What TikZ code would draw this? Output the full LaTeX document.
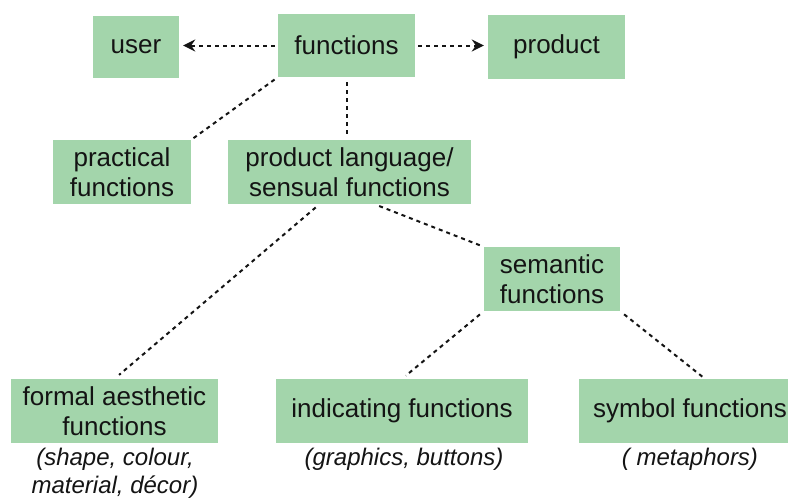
\documentclass[tikz,border=0pt]{standalone}
\usepackage{fontspec}
\setmainfont{Liberation Sans}
\usetikzlibrary{arrows.meta}
\definecolor{boxgreen}{RGB}{163,213,171}
\definecolor{ink}{RGB}{20,20,20}
\begin{document}
\begin{tikzpicture}[x=1pt,y=-1pt,
  box/.style={fill=boxgreen,draw=none,inner sep=0pt,align=center,text=ink,
    font=\fontsize{26}{30}\selectfont},
  note/.style={inner sep=0pt,align=center,text=ink,
    font=\fontsize{24}{28}\selectfont\itshape},
  dotline/.style={draw=ink,line width=2pt,dash pattern=on 4pt off 4pt},
  arr/.style={dotline,-{Stealth[length=12pt,width=12pt,inset=4pt]}}]
\useasboundingbox (0,0) rectangle (788,499);
\clip (0,0) rectangle (788,499);
\node[box,minimum width=86pt,minimum height=62pt] (user) at (136,47) {user};
\node[box,minimum width=137pt,minimum height=63pt] (fn) at (346.5,45.5) {functions};
\node[box,minimum width=137pt,minimum height=64pt] (prod) at (556.5,47) {product};
\node[box,minimum width=138pt,minimum height=64pt] (prac) at (122,172) {practical\\functions};
\node[box,minimum width=243pt,minimum height=64pt] (lang) at (349.5,172) {product language/\\sensual functions};
\node[box,minimum width=136pt,minimum height=64pt] (sem) at (552,279) {semantic\\functions};
\node[box,minimum width=207pt,minimum height=64pt] (formal) at (114.5,411) {formal aesthetic\\functions};
\node[box,minimum width=252pt,minimum height=64pt] (ind) at (402,411) {indicating functions};
\node[box,minimum width=222pt,minimum height=64pt] (sym) at (690,411) {symbol functions};
\node[note,anchor=base] (formalnote) at (115,493) {(shape, colour,\\material, décor)};
\node[note,anchor=base] (indnote) at (404,465) {(graphics, buttons)};
\node[note,anchor=base] (symnote) at (690,465) {( metaphors)};
\draw[arr,shorten <=3pt,shorten >=4pt] (fn.west) -- (user.east |- fn.west);
\draw[arr,shorten <=3pt,shorten >=4pt] (fn.east) -- (prod.west |- fn.east);
\draw[dotline,shorten <=4pt,shorten >=2pt] (fn.south west) -- (prac.north east);
\draw[dotline,shorten <=5pt,shorten >=4pt] (fn.south) -- (fn.south |- lang.north);
\draw[dotline,shorten <=5pt,shorten >=6pt] ([xshift=-30pt]lang.south) -- (formal.north);
\draw[dotline,shorten <=5pt,shorten >=2pt] ([xshift=25pt]lang.south) -- (sem.north west);
\draw[dotline,shorten <=5pt,shorten >=5pt] (sem.south west) -- (ind.north);
\draw[dotline,shorten <=5pt,shorten >=3pt] (sem.south east) -- ([xshift=15pt]sym.north);
\end{tikzpicture}
\end{document}
